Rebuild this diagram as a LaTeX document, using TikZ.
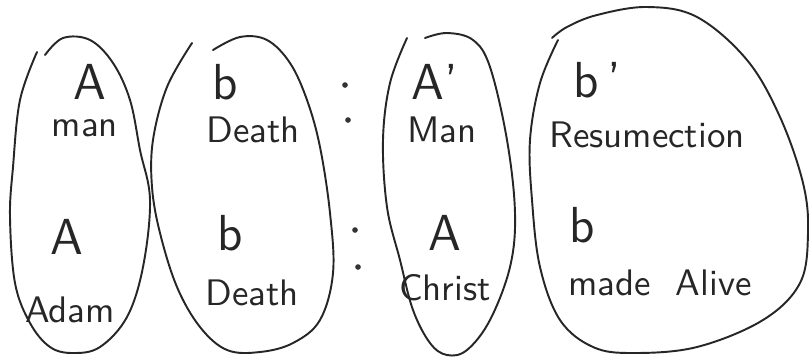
\documentclass[tikz,border=0pt]{standalone}
\usepackage{tikz}
\usetikzlibrary{positioning}
\tikzset{
  blob/.style={draw=black!85,line width=0.55pt,line cap=round,line join=round},
  letter/.style={font=\sffamily\Large,text=black!85,inner sep=1pt},
  word/.style={font=\sffamily\fontsize{10.5}{12}\selectfont,text=black!85,inner sep=1pt},
  dotmark/.style={circle,fill=black!80,inner sep=0pt,minimum size=1.6pt},
}
\begin{document}
\begin{tikzpicture}[x=0.01cm,y=-0.01cm]
  \useasboundingbox (0,0) rectangle (809,360);
  % the four loops
  \draw[blob] plot[smooth,tension=0.6] coordinates {(37,52) (20,100) (13,167)
    (10,217) (15,283) (30,323) (50,347) (73,353) (100,347) (127,317) (143,267)
    (150,200) (140,150) (130,100) (113,63) (90,40) (63,38) (45,55)};
  \draw[blob] plot[smooth,tension=0.6] coordinates {(192,43) (167,87) (153,140)
    (152,187) (160,233) (177,287) (200,327) (227,350) (260,352) (293,343)
    (320,320) (333,273) (330,213) (320,147) (307,100) (290,63) (267,40)
    (240,37) (213,50)};
  \draw[blob] plot[smooth,tension=0.6] coordinates {(407,38) (390,83) (383,140)
    (387,207) (400,260) (413,310) (430,343) (447,355) (467,350) (490,320)
    (510,267) (515,213) (507,140) (490,67) (473,40) (447,33) (425,38)};
  \draw[blob] plot[smooth,tension=0.6] coordinates {(558,40) (540,83) (530,140)
    (532,200) (540,267) (560,320) (593,347) (633,353) (697,347) (763,320)
    (800,283) (808,233) (803,183) (780,117) (747,60) (697,17) (647,7)
    (597,15) (567,27) (552,38)};
  % letters and words
  \foreach \n/\x/\y/\t in {lA/90/82/A, lAl/67/237/A, lb/225/82/b, lbl/230/233/b,
    rA/435/82/A', rAl/445/233/A, rb/597/80/b\,', rbl/582/225/b} {
    \node[letter] (\n) at (\x,\y) {\t};
  }
  \foreach \n/\x/\y/\t in {man/85/128/man, adam/70/310/Adam,
    deathA/253/130/Death, deathB/252/293/Death, Man/442/130/Man,
    christ/445/288/Christ, resur/647/135/Resumection,
    alive/660/283/made\ \ Alive} {
    \node[word] (\n) at (\x,\y) {\t};
  }
  % the colons
  \foreach \n/\x/\y in {c1/345/85, c2/348/120, c3/355/230, c4/358/267} {
    \node[dotmark] (\n) at (\x,\y) {};
  }
\end{tikzpicture}
\end{document}
